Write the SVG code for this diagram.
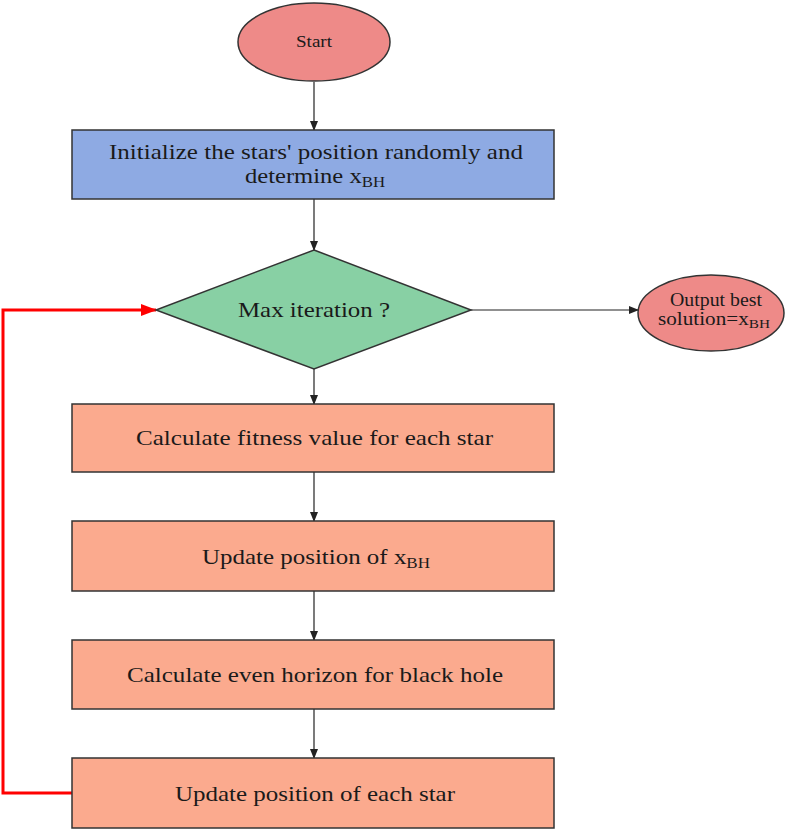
<svg xmlns="http://www.w3.org/2000/svg" width="790" height="829" viewBox="0 0 790 829">
<style>
text{font-family:'Liberation Serif','DejaVu Serif',serif}
.t{font-size:22px;fill:#1a1a1a}
.s{stroke:#333;stroke-width:1.5}
.c{stroke:#222;stroke-width:1.2;fill:none}
</style>
<defs>
<marker id="a" markerWidth="10" markerHeight="10" refX="9" refY="5" orient="auto" markerUnits="userSpaceOnUse"><path d="M0,1 L10,5 L0,9 Z" fill="#222"/></marker>
<marker id="r" markerWidth="16" markerHeight="14" refX="15" refY="7" orient="auto" markerUnits="userSpaceOnUse"><path d="M0,1 L16,7 L0,13 Z" fill="#f00"/></marker>
</defs>
<rect width="790" height="829" fill="#fff"/>
<g id="connectors">
<line class="c" x1="314" y1="82" x2="314" y2="130" marker-end="url(#a)"/>
<line class="c" x1="314" y1="199" x2="314" y2="250" marker-end="url(#a)"/>
<line class="c" x1="471" y1="310" x2="638" y2="310" marker-end="url(#a)"/>
<line class="c" x1="314" y1="369" x2="314" y2="404" marker-end="url(#a)"/>
<line class="c" x1="314" y1="472" x2="314" y2="521" marker-end="url(#a)"/>
<line class="c" x1="314" y1="591" x2="314" y2="640" marker-end="url(#a)"/>
<line class="c" x1="314" y1="709" x2="314" y2="758" marker-end="url(#a)"/>
<polyline points="72,793 3,793 3,310 156,310" fill="none" stroke="#f00" stroke-width="3" marker-end="url(#r)"/>
</g>
<g id="start"><ellipse class="s" cx="314" cy="42" rx="76" ry="39" fill="#ee8a88"/><text class="t" x="296" y="47" style="font-size:16px" textLength="36" lengthAdjust="spacingAndGlyphs">Start</text></g>
<g id="init"><rect class="s" x="72" y="130" width="482" height="69" fill="#8eaae3"/><text class="t" x="109" y="159" textLength="414" lengthAdjust="spacingAndGlyphs">Initialize the stars' position randomly and</text><text class="t" x="245" y="183" textLength="140" lengthAdjust="spacingAndGlyphs">determine x<tspan style="font-size:15px" dy="4">BH</tspan></text></g>
<g id="maxit"><polygon class="s" points="314,250 471,310 314,369 156,310" fill="#88d0a4"/><text class="t" x="238" y="317" textLength="152" lengthAdjust="spacingAndGlyphs">Max iteration ?</text></g>
<g id="output"><ellipse class="s" cx="711" cy="313" rx="73" ry="38" fill="#ee8a88"/><text class="t" x="670" y="306" style="font-size:18px" textLength="92" lengthAdjust="spacingAndGlyphs">Output best</text><text class="t" x="658" y="325" style="font-size:18px" textLength="112" lengthAdjust="spacingAndGlyphs">solution=x<tspan style="font-size:13px" dy="3">BH</tspan></text></g>
<g id="fitness"><rect class="s" x="72" y="404" width="482" height="68" fill="#fbaa8e"/><text class="t" x="136" y="445" textLength="357" lengthAdjust="spacingAndGlyphs">Calculate fitness value for each star</text></g>
<g id="updbh"><rect class="s" x="72" y="521" width="482" height="70" fill="#fbaa8e"/><text class="t" x="202" y="564" textLength="228" lengthAdjust="spacingAndGlyphs">Update position of x<tspan style="font-size:15px" dy="4">BH</tspan></text></g>
<g id="horizon"><rect class="s" x="72" y="640" width="482" height="69" fill="#fbaa8e"/><text class="t" x="127" y="682" textLength="376" lengthAdjust="spacingAndGlyphs">Calculate even horizon for black hole</text></g>
<g id="updstar"><rect class="s" x="72" y="758" width="482" height="70" fill="#fbaa8e"/><text class="t" x="175" y="801" textLength="280" lengthAdjust="spacingAndGlyphs">Update position of each star</text></g>
</svg>
